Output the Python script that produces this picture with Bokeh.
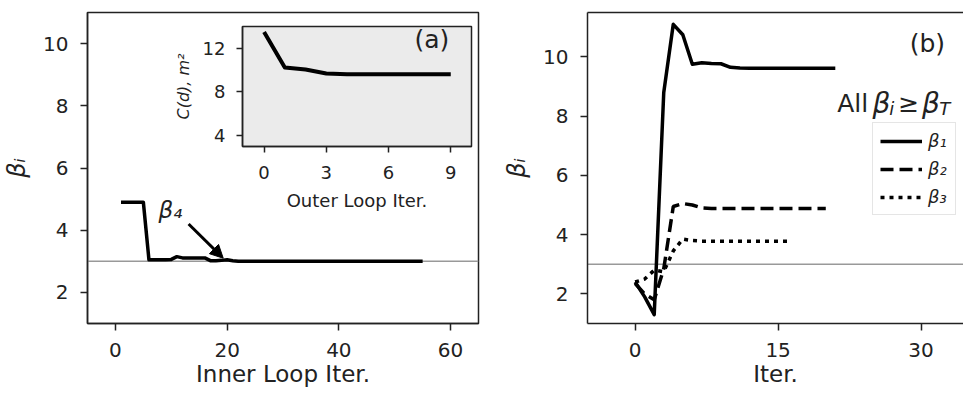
from bokeh.plotting import figure
from bokeh.models import (Span, Label, Arrow, NormalHead, LinearAxis, FixedTicker,
                          Legend, LegendItem)
from bokeh.layouts import row
from bokeh.embed import file_html
from bokeh.resources import INLINE

FONT = "DejaVu Sans"
INK = "#222222"

# ---------------- data ----------------
# panel (a): inner loop history of beta_4
inner_iter = list(range(1, 56))
beta4_inner = [4.9, 4.9, 4.9, 4.9, 4.9,
               3.05, 3.05, 3.05, 3.05, 3.06,
               3.15, 3.11, 3.11, 3.11, 3.11, 3.11,
               3.02, 3.02, 3.03, 3.05, 3.02,
               3.0, 3.0, 3.0, 3.0, 3.0, 3.0, 3.0, 3.0, 3.0, 3.0,
               3.0, 3.0, 3.0, 3.0, 3.0, 3.0, 3.0, 3.0, 3.0, 3.0,
               3.0, 3.0, 3.0, 3.0, 3.0, 3.0, 3.0, 3.0, 3.0, 3.0,
               3.0, 3.0, 3.0, 3.0]

# inset: cost vs outer loop iteration
outer_iter = [0, 1, 2, 3, 4, 5, 6, 7, 8, 9]
cost_outer = [13.5, 10.25, 10.05, 9.7, 9.62, 9.62, 9.62, 9.62, 9.62, 9.62]

# panel (b): beta_1..beta_3 vs iteration
iter_b1 = list(range(0, 22))
beta1 = [2.4, 1.9, 1.3, 8.8, 11.1, 10.75, 9.75, 9.8, 9.78, 9.77, 9.65,
         9.63, 9.62, 9.62, 9.62, 9.62, 9.62, 9.62, 9.62, 9.62, 9.62, 9.62]
iter_b2 = list(range(0, 21))
beta2 = [2.35, 2.0, 1.8, 2.85, 4.95, 5.05, 5.0, 4.9, 4.88, 4.88, 4.88,
         4.88, 4.88, 4.88, 4.88, 4.88, 4.88, 4.88, 4.88, 4.88, 4.88]
iter_b3 = list(range(0, 17))
beta3 = [2.4, 2.5, 2.8, 2.75, 3.45, 3.85, 3.8, 3.78, 3.78, 3.78, 3.78,
         3.78, 3.78, 3.78, 3.78, 3.78, 3.78]

beta_target = 3.0

a_xticks = [0, 20, 40, 60]
beta_yticks = [2, 4, 6, 8, 10]
inset_xticks = [0, 3, 6, 9]
inset_yticks = [4, 8, 12]
b_xticks = [0, 15, 30]


def style(p, xticks, yticks, tick_px, label_px, tick_len,
          xlab_stand, ylab_stand, axlab_stand_x, axlab_stand_y):
    p.xgrid.visible = False
    p.ygrid.visible = False
    p.xaxis.ticker = FixedTicker(ticks=xticks)
    p.yaxis.ticker = FixedTicker(ticks=yticks)
    for ax in p.axis:
        ax.axis_line_color = INK
        ax.axis_line_width = 1.5
        ax.major_tick_line_color = INK
        ax.major_tick_line_width = 1.5
        ax.major_tick_out = tick_len
        ax.major_tick_in = 0
        ax.minor_tick_out = 0
        ax.minor_tick_in = 0
        ax.major_label_text_font = FONT
        ax.major_label_text_font_size = tick_px
        ax.major_label_text_color = INK
        ax.axis_label_text_font = FONT
        ax.axis_label_text_font_size = label_px
        ax.axis_label_text_color = INK
        ax.axis_label_text_font_style = "normal"
    p.xaxis.major_label_standoff = xlab_stand
    p.yaxis.major_label_standoff = ylab_stand
    p.xaxis.axis_label_standoff = axlab_stand_x
    p.yaxis.axis_label_standoff = axlab_stand_y


# ---------------- panel (a) ----------------
pa = figure(width=500, height=393, x_range=(-5, 65), y_range=(1, 11),
            output_backend="svg", toolbar_location=None,
            min_border_left=84, min_border_right=22, min_border_top=12, min_border_bottom=70,
            background_fill_color="white", border_fill_color="white")
pa.outline_line_color = INK
pa.outline_line_width = 1.5
style(pa, a_xticks, beta_yticks, "20px", "23px", 7, 12, 12, 1, 9)
pa.xaxis.axis_label = "Inner Loop Iter."
pa.yaxis.axis_label = "βᵢ"
pa.yaxis.axis_label_text_font_style = "italic"
pa.yaxis.axis_label_text_font_size = "24px"

pa.add_layout(Span(location=beta_target, dimension="width", line_color="#999999",
                   line_width=1.6, level="underlay"))
pa.line(inner_iter, beta4_inner, line_color="black", line_width=3.5, line_join="round")
pa.add_layout(Arrow(x_start=13.1, y_start=4.2, x_end=19.3, y_end=3.1,
                    line_color="black", line_width=3,
                    end=NormalHead(size=13, fill_color="black", line_color="black", line_width=1)))
pa.add_layout(Label(x=7.7, y=4.64, text="β₄", text_font=FONT, text_font_size="23px",
                    text_font_style="italic", text_color=INK, text_baseline="alphabetic"))

# ---------------- inset ----------------
pi = figure(width=303, height=202, x_range=(-1.04, 10.0), y_range=(3, 14),
            output_backend="svg", toolbar_location=None,
            min_border_left=70, min_border_right=2, min_border_top=2, min_border_bottom=68,
            background_fill_color="#ebebeb", border_fill_color=None,
            styles={"position": "absolute", "left": "170px", "top": "14px"})
pi.outline_line_color = INK
pi.outline_line_width = 1.5
style(pi, inset_xticks, inset_yticks, "18px", "18px", 6, 13, 11, 8, 7)
pi.xaxis.axis_label = "Outer Loop Iter."
pi.yaxis.axis_label = "C(d), m²"
pi.yaxis.axis_label_text_font_style = "italic"
pi.yaxis.axis_label_text_font_size = "16px"
pi.line(outer_iter, cost_outer, line_color="black", line_width=4, line_join="round")
pi.add_layout(Label(x=7.25, y=12.78, text="(a)", text_font=FONT, text_font_size="25px",
                    text_color=INK, text_baseline="alphabetic"))

# ---------------- panel (b) ----------------
pb = figure(width=463, height=393, x_range=(-5, 34.45), y_range=(1, 11.5),
            output_backend="svg", toolbar_location=None,
            min_border_left=76, min_border_right=0, min_border_top=12, min_border_bottom=70,
            background_fill_color="white", border_fill_color="white")
pb.outline_line_color = None
style(pb, b_xticks, beta_yticks, "20px", "23px", 7, 12, 12, 1, 9)
pb.xaxis.axis_label = "Iter."
pb.yaxis.axis_label = "βᵢ"
pb.yaxis.axis_label_text_font_style = "italic"
pb.yaxis.axis_label_text_font_size = "24px"
top_ax = LinearAxis(ticker=FixedTicker(ticks=[]), major_label_text_font_size="0px",
                    major_tick_out=0, major_tick_in=0, minor_tick_out=0, minor_tick_in=0,
                    major_label_standoff=0, axis_line_color=INK, axis_line_width=1.5)
pb.add_layout(top_ax, "above")

pb.add_layout(Span(location=beta_target, dimension="width", line_color="#999999",
                   line_width=1.6, level="underlay"))
r1 = pb.line(iter_b1, beta1, line_color="black", line_width=3.5, line_join="round")
r2 = pb.line(iter_b2, beta2, line_color="black", line_width=3.5, line_dash="13 6",
             line_cap="butt")
r3 = pb.line(iter_b3, beta3, line_color="black", line_width=3.5, line_dash="4 5",
             line_cap="butt")

legend = Legend(items=[LegendItem(label="β₁", renderers=[r1]),
                       LegendItem(label="β₂", renderers=[r2]),
                       LegendItem(label="β₃", renderers=[r3])],
                location=(285, 108), glyph_width=42, glyph_height=20, label_height=20,
                label_standoff=6, padding=7, spacing=7, margin=0,
                label_text_font=FONT, label_text_font_size="18px",
                label_text_font_style="italic", label_text_color=INK,
                border_line_color="#cccccc", border_line_width=1.5,
                background_fill_color="white", background_fill_alpha=1.0)
pb.add_layout(legend)

pb.add_layout(Label(x=28.8, y=10.45, text="(b)", text_font=FONT, text_font_size="25px",
                    text_color=INK, text_baseline="alphabetic"))
# "All β_i ≥ β_T"
title_parts = [
    (21.2, 8.44, "All", "25px", "normal"),
    (24.9, 8.44, "β", "28px", "italic"),
    (26.65, 8.27, "i", "18px", "italic"),
    (27.6, 8.44, "≥", "25px", "normal"),
    (30.1, 8.44, "β", "28px", "italic"),
    (31.9, 8.27, "T", "18px", "italic"),
]
for tx, ty, tt, tsz, tst in title_parts:
    pb.add_layout(Label(x=tx, y=ty, text=tt, text_font=FONT, text_font_size=tsz,
                        text_font_style=tst, text_color=INK, text_baseline="alphabetic"))

layout = row(pa, pb, pi, styles={"position": "relative"})

open("out.html", "w").write(file_html(layout, INLINE))
